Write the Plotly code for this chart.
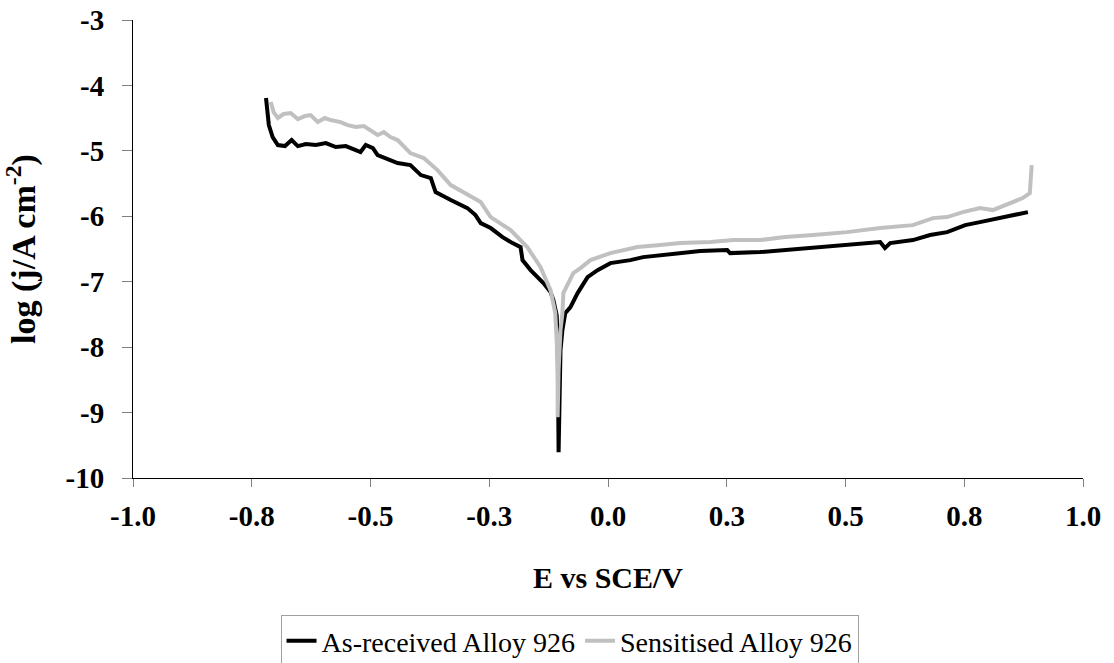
import plotly.graph_objects as go

# As-received Alloy 926
e_asrec = [-0.720, -0.714, -0.706, -0.695, -0.680, -0.666, -0.653, -0.636, -0.615, -0.594,
           -0.573, -0.552, -0.531, -0.521, -0.510, -0.495, -0.485, -0.458, -0.443, -0.416,
           -0.394, -0.373, -0.363, -0.331, -0.296, -0.279, -0.268, -0.247, -0.222, -0.201,
           -0.184, -0.180, -0.163, -0.136, -0.121, -0.115, -0.108, -0.106, -0.104, -0.104,
           -0.102, -0.100, -0.096, -0.090, -0.079, -0.064, -0.043, -0.022, 0.005, 0.047,
           0.074, 0.110, 0.152, 0.194, 0.251, 0.257, 0.320, 0.373, 0.432, 0.503,
           0.573, 0.583, 0.594, 0.642, 0.678, 0.714, 0.752, 0.783, 0.825, 0.852, 0.884]
j_asrec = [-4.193, -4.606, -4.789, -4.911, -4.927, -4.835, -4.927, -4.896, -4.911, -4.881,
           -4.942, -4.927, -4.988, -5.018, -4.911, -4.957, -5.064, -5.141, -5.187, -5.217,
           -5.370, -5.416, -5.630, -5.752, -5.875, -5.982, -6.104, -6.180, -6.318, -6.410,
           -6.471, -6.670, -6.823, -7.021, -7.159, -7.281, -7.511, -7.893, -8.810, -9.606,
           -8.810, -8.046, -7.740, -7.480, -7.388, -7.174, -6.930, -6.823, -6.716, -6.670,
           -6.624, -6.593, -6.563, -6.532, -6.517, -6.563, -6.547, -6.517, -6.486, -6.440,
           -6.394, -6.486, -6.410, -6.364, -6.287, -6.242, -6.135, -6.089, -6.028, -5.982, -5.936]

# Sensitised Alloy 926
e_sens = [-0.710, -0.704, -0.695, -0.683, -0.668, -0.653, -0.638, -0.626, -0.611, -0.596,
          -0.584, -0.563, -0.548, -0.531, -0.514, -0.500, -0.485, -0.472, -0.458, -0.443,
          -0.416, -0.388, -0.359, -0.331, -0.304, -0.268, -0.247, -0.205, -0.170, -0.142,
          -0.121, -0.111, -0.106, -0.106,
          -0.104, -0.100, -0.096, -0.094, -0.073, -0.058, -0.037, 0.005, 0.062, 0.110,
          0.152, 0.215, 0.264, 0.320, 0.373, 0.432, 0.503, 0.573, 0.642, 0.684,
          0.714, 0.747, 0.783, 0.810, 0.846, 0.873, 0.888, 0.892]
j_sens = [-4.254, -4.407, -4.498, -4.437, -4.422, -4.514, -4.468, -4.453, -4.560, -4.498,
          -4.529, -4.560, -4.606, -4.636, -4.621, -4.682, -4.758, -4.713, -4.789, -4.835,
          -5.034, -5.110, -5.294, -5.523, -5.630, -5.783, -6.012, -6.211, -6.471, -6.777,
          -7.128, -7.480, -8.199, -9.070,
          -8.352, -7.740, -7.480, -7.174, -6.869, -6.792, -6.670, -6.563, -6.471, -6.440,
          -6.410, -6.394, -6.364, -6.364, -6.318, -6.287, -6.242, -6.180, -6.135, -6.028,
          -6.012, -5.936, -5.875, -5.905, -5.798, -5.722, -5.645, -5.217]

x_tickvals = [-1.0, -0.75, -0.5, -0.25, 0.0, 0.25, 0.5, 0.75, 1.0]
x_ticktext = ["-1.0", "-0.8", "-0.5", "-0.3", "0.0", "0.3", "0.5", "0.8", "1.0"]
y_tickvals = [-10, -9, -8, -7, -6, -5, -4, -3]
y_ticktext = ["-10", "-9", "-8", "-7", "-6", "-5", "-4", "-3"]

FONT = "Liberation Serif"

fig = go.Figure()
fig.add_trace(go.Scatter(x=e_asrec, y=j_asrec, mode="lines", name="As-received Alloy 926",
                         line=dict(color="#000000", width=4)))
fig.add_trace(go.Scatter(x=e_sens, y=j_sens, mode="lines", name="Sensitised Alloy 926",
                         line=dict(color="#C0C0C0", width=4)))

fig.update_layout(
    width=1114, height=663,
    margin=dict(l=133, r=31, t=20, b=185, autoexpand=False),
    plot_bgcolor="white", paper_bgcolor="white",
    font=dict(family=FONT, color="black"),
    showlegend=True,
    legend=dict(orientation="h", x=0.4595, xanchor="center", y=-0.299, yanchor="top",
                bordercolor="#A0A0A0", borderwidth=1, font=dict(family=FONT, size=28),
                itemwidth=30, tracegroupgap=0),
    xaxis=dict(range=[-1.0, 1.0], tickvals=x_tickvals, ticktext=x_ticktext, automargin=False,
               showgrid=False, zeroline=False, showline=True, linecolor="black", linewidth=1,
               ticks="outside", ticklen=8, tickcolor="#808080", ticklabelstandoff=4,
               tickfont=dict(family=FONT, size=29, color="black", weight="bold"),
               title=dict(text="<b>E vs SCE/V</b>", font=dict(family=FONT, size=30), standoff=36)),
    yaxis=dict(range=[-10, -3], tickvals=y_tickvals, ticktext=y_ticktext, automargin=False,
               showgrid=False, zeroline=False, showline=True, linecolor="black", linewidth=1,
               ticks="outside", ticklen=10, tickcolor="#808080", ticklabelstandoff=12,
               tickfont=dict(family=FONT, size=29, color="black", weight="bold"),
               title=dict(text="<b>log (j/A cm<sup>-2</sup>)</b>", font=dict(family=FONT, size=34), standoff=20)),
)

fig.write_html("out.html")
